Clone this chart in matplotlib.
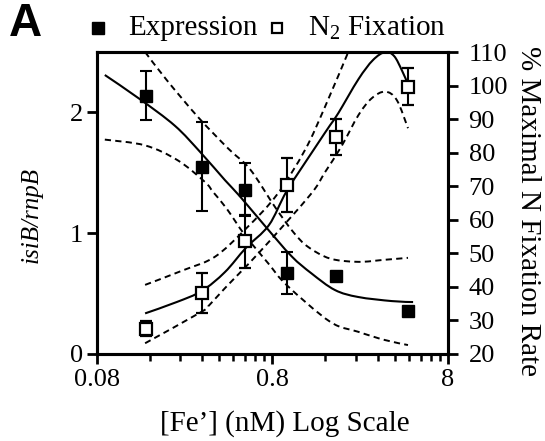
import numpy as np
import matplotlib
matplotlib.use('Agg')
import matplotlib.pyplot as plt
from matplotlib.lines import Line2D
from matplotlib.path import Path
from matplotlib.patches import PathPatch
from matplotlib.ticker import FixedLocator, NullFormatter, FixedFormatter

plt.rcParams['font.family'] = ['Liberation Serif', 'DejaVu Serif']
plt.rcParams['mathtext.fontset'] = 'custom'
plt.rcParams['mathtext.rm'] = 'Liberation Serif'
plt.rcParams['mathtext.it'] = 'Liberation Serif:italic'

# ---------------- data ----------------
fe = [0.153, 0.319, 0.563, 0.97, 1.84, 4.77]
expr = [2.14, 1.55, 1.36, 0.67, 0.647, 0.358]
expr_err = [0.20, 0.37, 0.22, 0.175, 0.0, 0.0]
n2 = [27.5, 38.1, 53.6, 70.4, 84.7, 99.7]
n2_err = [2.2, 6.0, 7.9, 8.0, 5.4, 5.5]

expr_fit_x = [0.089, 0.141, 0.223, 0.312, 0.43, 0.524, 0.728, 1.03, 1.34, 1.82, 2.47, 3.85, 5.08]
expr_fit_y = [2.31, 2.11, 1.89, 1.67, 1.44, 1.305, 1.06, 0.81, 0.667, 0.53, 0.472, 0.438, 0.43]
expr_hi_x = [0.151, 0.2, 0.303, 0.45, 0.598, 0.83, 1.054, 1.28, 1.71, 2.47, 3.5, 4.75]
expr_hi_y = [2.50, 2.27, 1.96, 1.70, 1.53, 1.217, 1.01, 0.887, 0.79, 0.763, 0.78, 0.796]
expr_lo_x = [0.089, 0.151, 0.232, 0.331, 0.369, 0.44, 0.56, 0.76, 0.968, 1.71, 2.47, 3.5, 4.75]
expr_lo_y = [1.775, 1.727, 1.603, 1.424, 1.34, 1.204, 0.983, 0.75, 0.57, 0.267, 0.184, 0.116, 0.074]

n2_fit_x = [0.151, 0.229, 0.318, 0.43, 0.566, 0.766, 0.969, 1.40, 1.71, 1.905, 2.48, 3.0, 3.52, 3.96, 4.38, 4.75]
n2_fit_y = [32.1, 35.5, 38.8, 44.4, 51.6, 58.4, 68.6, 81.4, 88.2, 91.8, 101.9, 107.6, 110.0, 108.8, 104.6, 100.4]
n2_hi_x = [0.151, 0.25, 0.378, 0.573, 0.849, 1.23, 1.60, 2.17]
n2_hi_y = [40.6, 45.0, 49.0, 57.6, 67.4, 80.8, 93.7, 110.0]
n2_lo_x = [0.151, 0.317, 0.351, 0.43, 0.681, 1.316, 1.60, 1.99, 2.48, 2.95, 3.52, 4.10, 4.75]
n2_lo_y = [23.2, 32.6, 34.6, 39.6, 50.5, 67.4, 74.2, 82.0, 91.2, 96.2, 98.2, 95.7, 87.3]

xticks = [0.08, 0.8, 8]
xticklabels = ['0.08', '0.8', '8']
lticks = [0, 1, 2]
rticks = [20, 30, 40, 50, 60, 70, 80, 90, 100, 110]


def smooth_curve(axis, xs, ys, **kw):
    """Draw a smooth curve through the read points (Bezier path through
    every point, built in the axis' log-x space)."""
    lx = np.log10(np.asarray(xs, float))
    yy = np.asarray(ys, float)
    n = len(lx)
    verts = [(xs[0], ys[0])]
    codes = [Path.MOVETO]
    for i in range(n - 1):
        i0 = max(i - 1, 0)
        i3 = min(i + 2, n - 1)
        c1 = (lx[i] + (lx[i + 1] - lx[i0]) / 6, yy[i] + (yy[i + 1] - yy[i0]) / 6)
        c2 = (lx[i + 1] - (lx[i3] - lx[i]) / 6, yy[i + 1] - (yy[i3] - yy[i]) / 6)
        verts += [(10 ** c1[0], c1[1]), (10 ** c2[0], c2[1]), (xs[i + 1], ys[i + 1])]
        codes += [Path.CURVE4] * 3
    patch = PathPatch(Path(verts, codes), facecolor='none', edgecolor='black',
                      transform=axis.transData, **kw)
    axis.add_patch(patch)


# ---------------- figure ----------------
fig = plt.figure(figsize=(5.45, 4.41), dpi=100)
ax = fig.add_axes([0.1774, 0.1973, 0.6441, 0.6847])
ax2 = ax.twinx()

ax.set_xscale('log')
ax.set_xlim(0.08, 8)
ax.set_ylim(0, 2.5)
ax2.set_ylim(20, 110)

dash = (0, (3.2, 2.2))
smooth_curve(ax, expr_fit_x, expr_fit_y, lw=1.5)
smooth_curve(ax, expr_hi_x, expr_hi_y, lw=1.4, ls=dash)
smooth_curve(ax, expr_lo_x, expr_lo_y, lw=1.4, ls=dash)
ax.errorbar(fe, expr, yerr=expr_err, fmt='s', color='black', ms=8,
            mfc='black', mec='black', ecolor='black', elinewidth=1.5,
            capsize=4.3, capthick=1.5, zorder=5)

smooth_curve(ax2, n2_fit_x, n2_fit_y, lw=1.5)
smooth_curve(ax2, n2_hi_x, n2_hi_y, lw=1.4, ls=dash)
smooth_curve(ax2, n2_lo_x, n2_lo_y, lw=1.4, ls=dash)
ax2.errorbar(fe, n2, yerr=n2_err, fmt='s', color='black', ms=8,
             mfc='white', mec='black', mew=1.6, ecolor='black', elinewidth=1.5,
             capsize=4.3, capthick=1.5, zorder=5)

ax.set_xlim(0.08, 8)
ax.set_ylim(0, 2.5)
ax2.set_ylim(20, 110)

ax.xaxis.set_major_locator(FixedLocator(xticks))
ax.xaxis.set_major_formatter(FixedFormatter(xticklabels))
minors = [0.08 * k for k in range(2, 10)] + [0.8 * k for k in range(2, 10)]
ax.xaxis.set_minor_locator(FixedLocator(minors))
ax.xaxis.set_minor_formatter(NullFormatter())
ax.set_yticks(lticks)
ax.set_yticklabels([str(t) for t in lticks])
ax2.set_yticks(rticks)
ax2.set_yticklabels([str(t) for t in rticks])

for a in (ax, ax2):
    for s in a.spines.values():
        s.set_linewidth(2.2)
ax.tick_params(axis='both', which='major', direction='out', length=7, width=2.0,
               labelsize=19, pad=3)
ax.tick_params(axis='x', which='minor', direction='out', length=5, width=1.8)
ax.tick_params(axis='x', which='major', pad=4)
ax2.tick_params(axis='y', which='major', direction='out', length=7, width=2.0,
                labelsize=19, pad=8)

# labels
fig.text(0.523, 0.040, "[Fe\u2019] (nM) Log Scale", ha='center', va='center', fontsize=21)
fig.text(0.058, 0.513, "isiB/rnpB", rotation=90, ha='center', va='center',
         fontsize=18, style='italic')
fig.text(0.968, 0.522, "% Maximal N Fixation Rate", rotation=270, ha='center',
         va='center', fontsize=21)
fig.text(0.016, 0.995, "A", ha='left', va='top', fontsize=33, weight='bold',
         family='Liberation Sans')

# legend
fig.add_artist(Line2D([98 / 545], [1 - 28 / 441], marker='s', ms=8, color='black',
                      mfc='black', ls='none', transform=fig.transFigure))
fig.text(128 / 545, 1 - 28 / 441, "Expression", ha='left', va='center', fontsize=21)
fig.add_artist(Line2D([277 / 545], [1 - 28 / 441], marker='s', ms=7.5, color='black',
                      mfc='white', mew=1.6, ls='none', transform=fig.transFigure))
fig.text(308 / 545, 1 - 28 / 441, "N$_2$ Fixation", ha='left', va='center', fontsize=21)

fig.savefig('out.png', dpi=100)
